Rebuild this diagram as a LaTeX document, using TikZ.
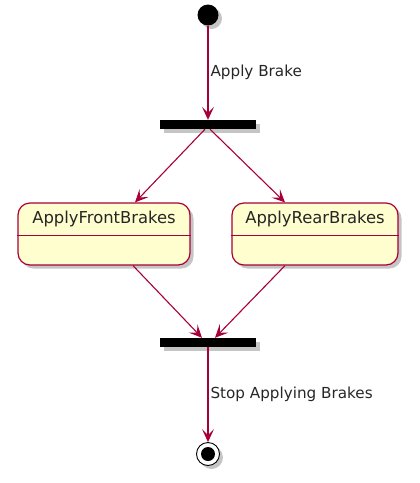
\documentclass[tikz,border=0pt]{standalone}
\usepackage{fontspec}
\setmainfont{DejaVu Sans}
\usetikzlibrary{arrows.meta,shadows}
\definecolor{umlred}{HTML}{A80036}
\definecolor{umlfill}{HTML}{FEFECE}
\tikzset{
  x=1pt, y=-1pt,
  shad/.style={drop shadow={shadow xshift=3.5pt, shadow yshift=-3.5pt, fill=black!45, opacity=0.5}},
  startnode/.style={circle, fill=black, minimum size=21pt, inner sep=0pt, shad},
  barnode/.style={rectangle, fill=black, minimum width=96pt, minimum height=9pt, inner sep=0pt, shad},
  statebox/.style={rectangle, rounded corners=12pt, draw=umlred, line width=1.2pt, fill=umlfill, minimum height=62pt, inner sep=0pt, shad},
  statetext/.style={font=\fontsize{16.4}{18}\selectfont, text=black!85, inner sep=0pt},
  divider/.style={draw=umlred, line width=1.2pt},
  arr/.style={draw=umlred, line width=1.1pt, -{Stealth[length=13pt, width=12pt, inset=6pt]}},
  lbl/.style={font=\fontsize{15.2}{17}\selectfont, text=black!85, inner sep=2pt, right},
}
\begin{document}
\begin{tikzpicture}
\useasboundingbox (0,0) rectangle (420,483);
\node[startnode] (start) at (208,15) {};
\node[barnode] (bar1) at (208,124.5) {};
\node[statebox, minimum width=172pt] (s1) at (104,234) {};
\node[statebox, minimum width=166pt] (s2) at (315,234) {};
\draw[divider] ([yshift=-33pt]s1.north west) -- ([yshift=-33pt]s1.north east);
\draw[divider] ([yshift=-33pt]s2.north west) -- ([yshift=-33pt]s2.north east);
\node[statetext] (t1) at ([yshift=-17pt]s1.north) {ApplyFrontBrakes};
\node[statetext] (t2) at ([yshift=-17pt]s2.north) {ApplyRearBrakes};
\node[barnode] (bar2) at (208,342.5) {};
\node[circle, draw=black, line width=0.9pt, fill=white, minimum size=23pt, inner sep=0pt, shad] (endo) at (208,454) {};
\node[circle, fill=black, minimum size=14pt, inner sep=0pt] (endi) at (endo.center) {};

\draw[arr] (start.south) -- node[lbl] (l1) {Apply Brake} (bar1.north);
\draw[arr] ([xshift=-3pt]bar1.south) -- ([xshift=31pt]s1.north);
\draw[arr] ([xshift=2pt]bar1.south) -- ([xshift=-30pt]s2.north);
\draw[arr] ([xshift=29pt]s1.south) -- ([xshift=-6pt]bar2.north);
\draw[arr] ([xshift=-30pt]s2.south) -- ([xshift=7pt]bar2.north);
\draw[arr] (bar2.south) -- node[lbl] (l2) {Stop Applying Brakes} (endo.north);
\end{tikzpicture}
\end{document}
